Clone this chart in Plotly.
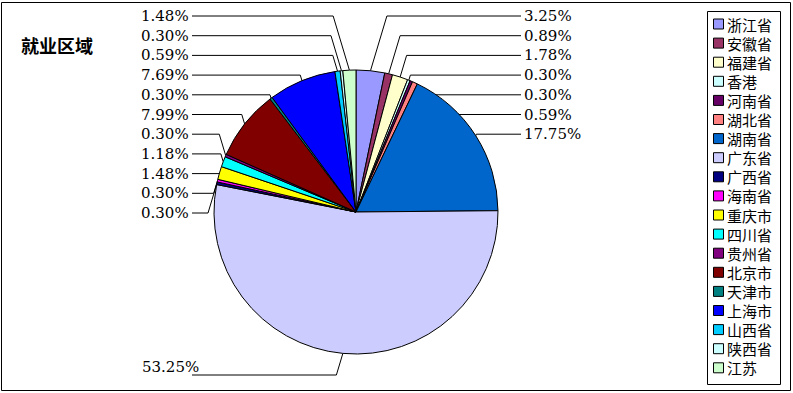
import math
import plotly.graph_objects as go

# ---- data ----
regions = ["浙江省", "安徽省", "福建省", "香港", "河南省", "湖北省", "湖南省", "广东省",
           "广西省", "海南省", "重庆市", "四川省", "贵州省", "北京市", "天津市", "上海市",
           "山西省", "陕西省", "江苏"]
percents = [3.25, 0.89, 1.78, 0.30, 0.30, 0.59, 17.75, 53.25,
            0.30, 0.30, 1.48, 1.18, 0.30, 7.99, 0.30, 7.69,
            0.59, 0.30, 1.48]
colors = ["#9999FF", "#993366", "#FFFFCC", "#CCFFFF", "#660066", "#FF8080", "#0066CC", "#CCCCFF",
          "#000080", "#FF00FF", "#FFFF00", "#00FFFF", "#800080", "#800000", "#008080", "#0000FF",
          "#00CCFF", "#CCFFFF", "#CCFFCC"]
title_text = "就业区域"

# ---- layout constants (pixels) ----
W, H = 793, 393
CX, CY, R = 356, 212, 142
STEP = 19.7
TOP = 16
RIGHT_X = 521
LEFT_X = 192
LABEL_FONT = dict(family="DejaVu Serif", size=15, color="black")
LEG_X0, LEG_Y0, LEG_X1, LEG_Y1 = 707.5, 11.5, 780.5, 384.5
LEG_TOP, LEG_STEP = 24.0, 19.1

fig = go.Figure()
fig.add_trace(go.Pie(
    labels=regions, values=percents, sort=False, direction="clockwise", rotation=0,
    marker=dict(colors=colors, line=dict(color="black", width=1)),
    textinfo="none", hoverinfo="label+percent", showlegend=False,
    domain=dict(x=[(CX - R) / W, (CX + R) / W], y=[(H - CY - R) / H, (H - CY + R) / H]),
))

total = sum(percents)
cum = 0.0
lx, ly = [], []
annotations = []
shapes = []
n = len(percents)
big = percents.index(max(percents))
for i, v in enumerate(percents):
    mid = (cum + v / 2) / total
    cum += v
    th = 2 * math.pi * mid
    ex, ey = CX + R * math.sin(th), CY - R * math.cos(th)
    txt = f"{v:.2f}%"
    if i < big:
        yL = TOP + i * STEP
        bx = ex + 0.3 * abs(yL - ey)
        lx += [ex, bx, RIGHT_X, None]
        ly += [ey, yL, yL, None]
        annotations.append(dict(x=RIGHT_X + 1, y=yL, text=txt, xanchor="left", yanchor="middle",
                                showarrow=False, xref="x", yref="y", font=LABEL_FONT))
    elif i == big:
        yL = 375
        bx = ex - 0.3 * abs(yL - ey)
        lx += [ex, bx, LEFT_X, None]
        ly += [ey, yL, yL, None]
        annotations.append(dict(x=201, y=367, text=txt, xanchor="right", yanchor="middle",
                                showarrow=False, xref="x", yref="y", font=LABEL_FONT))
    else:
        j = n - 1 - i
        yL = TOP + j * STEP
        bx = ex - 0.3 * abs(yL - ey)
        lx += [ex, bx, LEFT_X, None]
        ly += [ey, yL, yL, None]
        annotations.append(dict(x=LEFT_X - 1, y=yL, text=txt, xanchor="right", yanchor="middle",
                                showarrow=False, xref="x", yref="y", font=LABEL_FONT))

fig.add_trace(go.Scatter(x=lx, y=ly, mode="lines", line=dict(color="black", width=1),
                         showlegend=False, hoverinfo="skip"))

# ---- legend box (drawn to match the reference's compact spacing) ----
shapes.append(dict(type="rect", xref="x", yref="y", x0=LEG_X0, y0=LEG_Y0, x1=LEG_X1, y1=LEG_Y1,
                   line=dict(color="black", width=1), fillcolor="white", layer="below"))
for k, (name, col) in enumerate(zip(regions, colors)):
    yc = LEG_TOP + k * LEG_STEP
    shapes.append(dict(type="rect", xref="x", yref="y", x0=713.5, x1=723.5, y0=yc - 5, y1=yc + 5,
                       line=dict(color="black", width=1), fillcolor=col))
    annotations.append(dict(x=725, y=yc, text=name, xanchor="left", yanchor="middle",
                            showarrow=False, xref="x", yref="y",
                            font=dict(family="Noto Sans CJK SC", size=15, color="black")))

annotations.append(dict(x=19, y=45, text=f"<b>{title_text}</b>", xanchor="left", yanchor="middle",
                        showarrow=False, xref="x", yref="y",
                        font=dict(family="Noto Sans CJK SC", size=18, color="black")))

shapes.append(dict(type="rect", xref="x", yref="y", x0=1.5, y0=2.5, x1=790.5, y1=390.5,
                   line=dict(color="black", width=1)))

fig.update_layout(
    width=W, height=H, margin=dict(l=0, r=0, t=0, b=0),
    paper_bgcolor="white", plot_bgcolor="white",
    xaxis=dict(range=[0, W], visible=False, domain=[0, 1], fixedrange=True),
    yaxis=dict(range=[H, 0], visible=False, domain=[0, 1], fixedrange=True),
    annotations=annotations,
    shapes=shapes,
    showlegend=False,
)

fig.write_html("out.html", config={"displayModeBar": False},
               post_script="document.body.style.margin='0px';document.body.style.overflow='hidden';")
